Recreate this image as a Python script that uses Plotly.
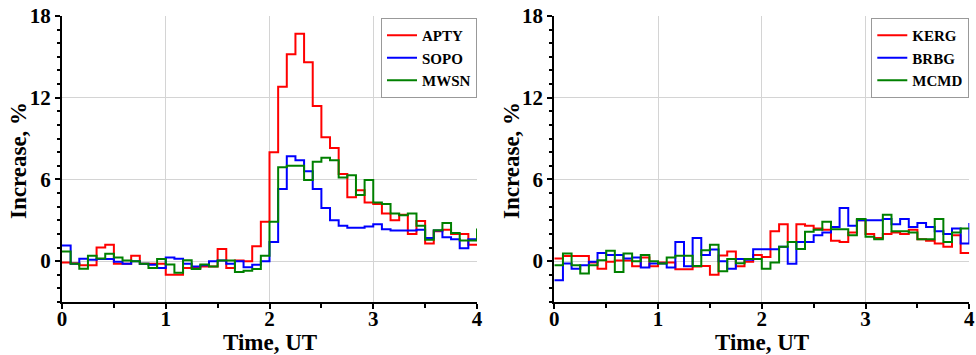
import plotly.graph_objects as go

# time axis: 5-minute bins from 0 to 4 UT
n_bins = 48
time_ut = [i / 12 for i in range(n_bins + 1)]

apty = [-0.1, -0.15, -0.3, -0.3, 1.0, 1.2, -0.2, -0.2, 0.4, -0.2, -0.2, -0.2,
        -1.0, -1.0, -0.5, -0.5, -0.4, -0.4, 0.9, -0.5, 0.05, 0.0, 1.1, 2.9,
        8.0, 12.8, 15.2, 16.7, 14.6, 11.4, 9.1, 8.3, 6.4, 4.7, 5.2, 4.3,
        4.2, 3.5, 3.0, 3.4, 2.0, 2.95, 1.3, 2.2, 2.3, 2.0, 2.0, 1.2, 1.2]
sopo = [1.15, -0.2, 0.17, 0.1, 0.15, 0.15, -0.05, -0.2, 0.0, -0.2, -0.27, -0.5,
        0.27, 0.17, -0.2, -0.4, -0.3, 0.0, 0.05, -0.2, 0.0, -0.44, -0.27, 0.0,
        1.4, 5.3, 7.7, 7.4, 6.6, 5.3, 3.9, 3.0, 2.6, 2.45, 2.45, 2.55,
        2.7, 2.35, 2.25, 2.25, 2.25, 2.3, 1.7, 2.25, 1.75, 1.6, 0.95, 1.6, 1.6]
mwsn = [0.7, -0.2, -0.55, 0.4, 0.2, 0.55, 0.27, 0.05, 0.0, -0.2, -0.5, 0.15,
        -0.25, -0.85, 0.07, -0.57, -0.25, -0.4, 0.05, 0.05, -0.8, -0.7, -0.57, 0.4,
        2.9, 6.9, 7.0, 7.0, 5.95, 7.3, 7.6, 7.4, 6.15, 6.3, 4.85, 5.95,
        4.3, 4.2, 3.5, 3.37, 3.5, 2.6, 1.57, 2.26, 2.8, 2.07, 1.52, 1.52, 2.4]

kerg = [0.2, 0.37, 0.37, 0.37, -0.1, -0.55, -0.05, 0.05, 0.05, -0.37, 0.27, -0.37,
        -0.1, -0.1, -0.6, -0.6, -0.4, -0.35, -1.0, 0.42, 0.7, -0.37, -0.05, 0.45,
        0.3, 2.2, 2.7, 1.4, 2.7, 2.6, 2.4, 2.3, 1.5, 1.4, 2.1, 3.0,
        2.0, 1.7, 2.0, 2.1, 2.0, 2.3, 1.6, 1.5, 1.3, 1.05, 1.9, 0.6, 0.6]
brbg = [-1.4, -0.17, -0.55, -0.3, -0.05, 0.6, 0.45, 0.45, 0.2, 0.27, -0.47, -0.17,
        -0.17, -0.47, 1.4, -0.37, 1.7, 0.45, 0.86, 0.0, -0.55, 0.15, 0.1, 0.88,
        0.88, 0.88, 1.05, -0.2, 1.4, 1.4, 1.9, 2.1, 2.5, 3.9, 2.6, 3.0,
        3.0, 3.0, 3.1, 2.7, 3.1, 2.5, 2.8, 2.5, 2.2, 2.0, 2.4, 1.3, 2.8]
mcmd = [-0.3, 0.56, -0.3, -0.9, -0.3, 0.07, 0.76, -0.8, 0.56, 0.0, 0.45, 0.0,
        -0.17, 0.27, 0.4, 0.4, -0.35, 0.8, 1.2, -0.75, 0.15, -0.15, 0.15, 0.15,
        -0.55, -0.1, 1.05, 1.4, 0.9, 2.15, 2.3, 2.9, 2.35, 2.35, 1.9, 3.1,
        1.8, 1.6, 3.4, 2.2, 2.2, 2.1, 1.6, 1.6, 3.1, 1.4, 2.1, 2.4, 2.4]

x_ticks = [0, 1, 2, 3, 4]
y_ticks = [0, 6, 12, 18]

left_series = [("APTY", apty, "#ff0000"), ("SOPO", sopo, "#0000ff"), ("MWSN", mwsn, "#008000")]
right_series = [("KERG", kerg, "#ff0000"), ("BRBG", brbg, "#0000ff"), ("MCMD", mcmd, "#008000")]

W, H = 976, 355
FONT = "Liberation Serif"

fig = go.Figure()
for name, vals, col in left_series:
    fig.add_trace(go.Scatter(x=time_ut, y=vals, name=name, mode="lines",
                             line=dict(color=col, width=2, shape="hv"),
                             xaxis="x", yaxis="y", legend="legend"))
for name, vals, col in right_series:
    fig.add_trace(go.Scatter(x=time_ut, y=vals, name=name, mode="lines",
                             line=dict(color=col, width=2, shape="hv"),
                             xaxis="x2", yaxis="y2", legend="legend2"))

left_px = (62, 477)
right_px = (554.3, 969.3)
top_px, bot_px = 16, 302
ydom = [1 - bot_px / H, 1 - top_px / H]

axis_common = dict(showline=True, linecolor="black", linewidth=2, mirror=False,
                   showgrid=True, gridcolor="#d4d4d4", gridwidth=1, zeroline=False,
                   automargin=False,
                   ticks="outside", ticklen=5, tickwidth=1.5, tickcolor="black",
                   tickfont=dict(family=FONT, size=21, color="black", weight="bold"))

xax = dict(axis_common, range=[0, 4], tickvals=x_ticks, ticklabelstandoff=-8,
           minor=dict(dtick=0.5, ticks="outside", ticklen=4, tickwidth=1.5, tickcolor="black", showgrid=False))
yax = dict(axis_common, range=[-3, 18], tickvals=y_ticks,
           minor=dict(dtick=1, ticks="outside", ticklen=3, tickwidth=1.5, tickcolor="black", showgrid=False))

legend_common = dict(y=1 - 18 / H, xanchor="right", yanchor="top",
                     bgcolor="white", bordercolor="#999999", borderwidth=1,
                     font=dict(family=FONT, size=15, color="black", weight="bold"),
                     tracegroupgap=0, itemwidth=30)

fig.update_layout(
    width=W, height=H,
    margin=dict(l=0, r=0, t=0, b=0, autoexpand=False),
    paper_bgcolor="white", plot_bgcolor="white",
    xaxis=dict(xax, domain=[left_px[0] / W, left_px[1] / W], anchor="y"),
    yaxis=dict(yax, domain=ydom, anchor="x"),
    xaxis2=dict(xax, domain=[right_px[0] / W, right_px[1] / W], anchor="y2"),
    yaxis2=dict(yax, domain=ydom, anchor="x2"),
    legend=dict(legend_common, x=left_px[1] / W),
    legend2=dict(legend_common, x=right_px[1] / W),
    showlegend=True,
)

title_font = dict(family=FONT, size=23, color="black", weight="bold")
annots = [
    dict(text="Time, UT", x=(left_px[0] + left_px[1]) / 2 / W, y=1 - 342 / H),
    dict(text="Time, UT", x=(right_px[0] + right_px[1]) / 2 / W, y=1 - 342 / H),
    dict(text="Increase, %", x=18 / W, y=1 - 161 / H, textangle=-90),
    dict(text="Increase, %", x=511 / W, y=1 - 161 / H, textangle=-90),
]
for a in annots:
    fig.add_annotation(xref="paper", yref="paper", showarrow=False,
                       xanchor="center", yanchor="middle", font=title_font, **a)

fig.write_html("out.html")
